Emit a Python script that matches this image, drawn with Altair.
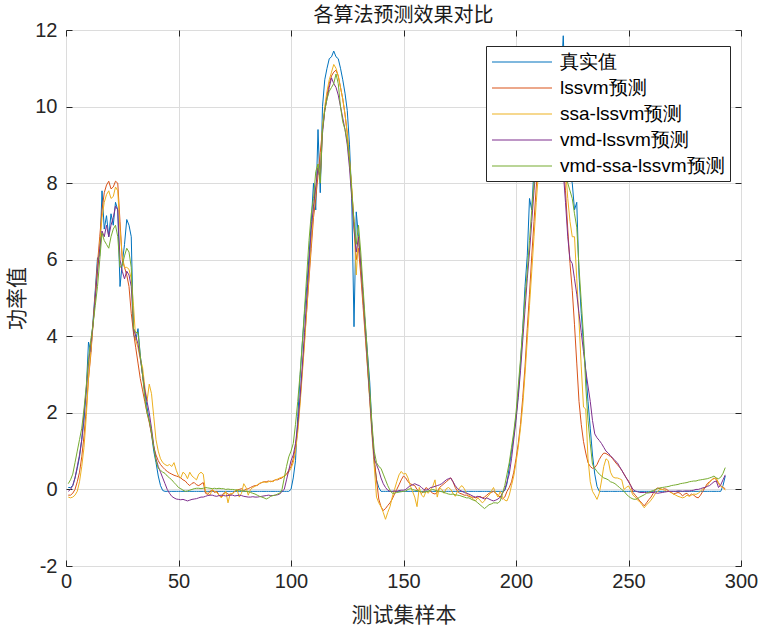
import altair as alt
import pandas as pd

samples = list(range(1, 294))

true_vals = [
    0.05, 0.05, 0.1, 0.3, 0.55, 0.85, 1.3, 1.8, 2.6, 3.85,
    3.6, 4.4, 5.2, 6.05, 6.1, 7.8, 6.8, 7.15, 6.6, 7.2,
    6.9, 7.5, 7.3, 5.3, 5.9, 6.4, 7.05, 6.9, 6.6, 4.05,
    3.9, 4.2, 3.5, 3.0, 2.55, 2.15, 1.8, 1.45, 1.0, 0.7,
    0.35, 0.1, -0.03, -0.05, -0.05, -0.05, -0.05, -0.05, -0.05, -0.05,
    -0.05, -0.05, -0.05, -0.05, -0.05, -0.05, -0.05, -0.05, -0.05, -0.05,
    -0.05, -0.05, -0.05, -0.05, -0.05, -0.05, -0.05, -0.05, -0.05, -0.05,
    -0.05, -0.05, -0.05, -0.05, -0.05, -0.05, -0.05, -0.05, -0.05, -0.05,
    -0.05, -0.05, -0.05, -0.05, -0.05, -0.05, -0.05, -0.05, -0.05, -0.05,
    -0.05, -0.05, -0.05, -0.05, -0.05, -0.05, -0.05, -0.05, -0.05, 0.0,
    0.3, 0.75, 1.9, 2.9, 3.8, 4.6, 5.3, 6.1, 7.0, 8.0,
    7.3, 9.4, 7.75, 10.0, 10.7, 11.0, 11.25, 11.3, 11.45, 11.3,
    11.25, 11.0, 10.7, 10.35, 9.9, 9.0, 7.6, 4.25, 7.25, 6.6,
    5.8, 5.0, 4.3, 3.55, 2.8, 1.6, 0.7, 0.25, 0.05, -0.05,
    -0.05, -0.05, -0.05, -0.05, -0.05, -0.05, -0.05, -0.05, -0.05, -0.05,
    -0.05, -0.05, -0.05, -0.05, -0.05, -0.05, -0.05, -0.05, -0.05, -0.05,
    -0.05, -0.05, -0.05, -0.05, -0.05, -0.05, -0.05, -0.05, -0.05, -0.05,
    -0.05, -0.05, -0.05, -0.05, -0.05, -0.05, -0.05, -0.05, -0.05, -0.05,
    -0.05, -0.05, -0.05, -0.05, -0.05, -0.05, -0.05, -0.05, -0.05, -0.05,
    -0.05, -0.05, -0.05, -0.05, -0.03, 0.15, 0.6, 1.0, 1.4, 1.9,
    2.5, 3.3, 4.2, 5.3, 6.1, 7.6, 7.3, 8.4, 9.4, 9.8,
    10.3, 10.6, 10.9, 11.1, 11.2, 11.3, 11.2, 11.0, 10.9, 10.7,
    11.85, 10.2, 9.0, 8.2, 8.0, 7.3, 7.5, 5.6, 4.6, 3.8,
    3.1, 2.3, 1.6, 0.9, 0.4, 0.08, -0.05, -0.05, -0.05, -0.05,
    -0.05, -0.05, -0.05, -0.05, -0.05, -0.05, -0.05, -0.05, -0.05, -0.05,
    -0.05, -0.05, -0.05, -0.05, -0.05, -0.05, -0.05, -0.05, -0.05, -0.05,
    -0.05, -0.05, -0.05, -0.05, -0.05, -0.05, -0.05, -0.05, -0.05, -0.05,
    -0.05, -0.05, -0.05, -0.05, -0.05, -0.05, -0.05, -0.05, -0.05, -0.05,
    -0.05, -0.05, -0.05, -0.05, -0.05, -0.05, -0.05, -0.05, -0.05, -0.05,
    -0.05, 0.1, 0.35,
]

lssvm_vals = [
    -0.15, -0.15, -0.1, 0.0, 0.2, 0.45, 0.85, 1.4, 2.1, 2.9,
    3.5, 4.3, 5.1, 5.9, 6.6, 7.3, 7.75, 7.95, 8.05, 7.85,
    7.9, 8.05, 8.0, 7.0, 6.0, 5.8, 5.6, 5.3, 4.6, 4.1,
    3.7, 3.3, 2.9, 2.6, 2.3, 2.0, 1.75, 1.45, 1.1, 0.9,
    0.75, 0.65, 0.58, 0.52, 0.47, 0.43, 0.4, 0.37, 0.35, 0.33,
    0.3, 0.25, 0.22, 0.15, 0.1, 0.16, 0.18, 0.12, 0.1, 0.14,
    0.18, -0.1, -0.13, -0.05, -0.02, -0.08, -0.05, -0.15, -0.2, -0.1,
    -0.08, -0.12, -0.15, -0.1, -0.05, -0.02, 0.0, 0.02, -0.03, 0.0,
    0.02, 0.05, 0.08, 0.1, 0.1, 0.15, 0.18, 0.2, 0.2, 0.22,
    0.2, 0.22, 0.25, 0.25, 0.28, 0.3, 0.35, 0.4, 0.5, 0.6,
    0.8, 1.1, 1.6, 2.3, 3.1, 3.9, 4.7, 5.5, 6.3, 7.1,
    7.6, 8.2, 8.8, 9.4, 9.9, 10.3, 10.6, 10.8, 10.9, 10.95,
    10.8, 10.5, 10.2, 9.8, 9.3, 8.6, 7.8, 7.0, 6.0, 6.3,
    5.6, 4.8, 4.0, 3.2, 2.4, 1.6, 0.8, 0.25, -0.25, -0.45,
    -0.55, -0.5, -0.42, -0.35, -0.25, -0.12, 0.0, 0.12, 0.25, 0.35,
    0.3, 0.2, 0.15, 0.12, 0.1, 0.0, -0.05, -0.1, -0.05, 0.05,
    0.0, -0.05, -0.1, -0.12, -0.08, 0.05, 0.1, 0.15, 0.2, 0.25,
    0.3, 0.2, 0.05, -0.05, -0.1, -0.12, -0.15, -0.15, -0.18, -0.2,
    -0.2, -0.22, -0.2, -0.18, -0.22, -0.2, -0.15, -0.1, -0.08, -0.05,
    -0.1, -0.15, -0.2, -0.25, -0.2, -0.05, 0.05, 0.2, 0.45, 0.8,
    1.2, 1.7, 2.4, 3.2, 4.2, 5.1, 6.1, 7.0, 7.9, 8.6,
    9.3, 9.8, 10.2, 10.5, 10.7, 10.8, 10.7, 10.4, 10.0, 9.4,
    8.6, 7.8, 6.8, 5.9, 5.2, 4.3, 3.3, 2.3, 1.7, 1.25,
    0.95, 0.7, 0.6, 0.55, 0.57, 0.65, 0.78, 0.88, 0.95, 0.94,
    0.9, 0.86, 0.8, 0.72, 0.65, 0.58, 0.5, 0.4, 0.3, 0.22,
    0.1, -0.08, -0.15, -0.22, -0.3, -0.36, -0.43, -0.35, -0.27, -0.2,
    -0.1, 0.0, 0.04, 0.02, 0.0, 0.02, 0.0, -0.05, -0.08, -0.12,
    -0.1, -0.08, -0.1, -0.17, -0.12, -0.1, -0.17, -0.12, -0.15, -0.2,
    -0.22, -0.15, -0.05, 0.05, 0.15, 0.2, 0.25, 0.3, 0.26, 0.15,
    0.08, 0.05, 0.02,
]

ssa_vals = [
    -0.2, -0.22, -0.2, -0.15, -0.05, 0.2, 0.6, 1.1, 1.9, 2.9,
    3.6, 4.3, 5.0, 5.7, 6.4, 7.1, 7.5, 7.7, 7.8, 7.6,
    7.65, 7.9, 7.8, 6.8, 6.1, 5.8, 5.8, 5.75, 5.5, 4.8,
    3.9, 3.7, 3.4, 3.2, 2.7, 2.3, 2.75, 2.5, 1.9, 1.3,
    1.0, 0.8, 0.7, 0.65, 0.62, 0.65, 0.6, 0.7, 0.5, 0.35,
    0.3, 0.45, 0.4, 0.28, 0.45, 0.35, 0.3, 0.25, 0.4, 0.45,
    0.4, -0.05, -0.1, -0.15, 0.0, -0.05, -0.08, -0.15, -0.22, -0.15,
    -0.05, -0.35, -0.1, -0.12, -0.05, 0.0, -0.2, -0.1, 0.15, 0.05,
    -0.15, 0.0, 0.05, 0.08, 0.12, 0.16, 0.18, 0.2, 0.18, 0.2,
    0.22, 0.2, 0.25, 0.27, 0.3, 0.32, 0.35, 0.38, 0.45, 0.55,
    0.7, 1.0, 1.5, 2.2, 3.0, 3.8, 4.7, 5.6, 6.5, 7.3,
    7.8, 8.5, 8.2, 9.5, 10.0, 10.4, 10.7, 10.9, 11.1, 11.0,
    10.8, 10.5, 10.2, 9.8, 9.3, 8.6, 7.9, 6.9, 5.6, 6.6,
    5.9, 5.0, 4.1, 3.2, 2.3, 1.4, 0.6, -0.2, -0.35, -0.45,
    -0.6, -0.78, -0.6, -0.45, -0.2, 0.0, 0.2, 0.38, 0.47, 0.4,
    0.42, 0.3, 0.1, -0.05, -0.2, -0.45, 0.05, -0.15, -0.2, -0.05,
    -0.1, 0.0, 0.08, 0.25, -0.2, 0.05, 0.0, -0.1, 0.02, 0.05,
    0.0, -0.1, -0.18, -0.05, 0.05, 0.1, 0.02, -0.1, -0.15, -0.2,
    -0.25, -0.3, -0.22, -0.28, -0.35, -0.3, -0.2, -0.15, -0.05, 0.05,
    -0.1, -0.2, -0.05, -0.2, -0.28, -0.3, -0.15, 0.1, 0.35, 0.7,
    1.1, 1.6, 2.2, 3.0, 3.9, 4.8, 5.7, 6.6, 7.5, 8.3,
    9.0, 9.6, 10.0, 10.4, 10.6, 10.75, 10.7, 10.5, 10.1, 9.6,
    9.0, 8.4, 7.6, 7.0, 6.6, 6.6, 5.5, 4.4, 3.2, 2.15,
    2.1, 0.8, 0.2, -0.05, -0.15, -0.26, -0.1, 0.22, 0.6, 0.8,
    0.75, 0.45, 0.33, 0.3, 0.3, 0.28, 0.25, 0.0, 0.05, 0.09,
    -0.02, -0.15, -0.2, -0.28, -0.32, -0.4, -0.48, -0.4, -0.35, -0.28,
    -0.2, -0.1, -0.05, 0.0, 0.0, -0.02, -0.05, -0.05, -0.08, -0.12,
    -0.15, -0.18, -0.2, -0.22, -0.2, -0.15, -0.18, -0.15, -0.12, -0.13,
    -0.1, -0.05, 0.02, 0.05, 0.1, 0.18, 0.25, 0.28, 0.3, 0.18,
    0.1, 0.05, -0.02,
]

vmd_vals = [
    -0.05, 0.0, 0.1, 0.3, 0.6, 0.9, 1.3, 2.0, 2.6, 3.3,
    3.8, 4.3, 5.0, 5.7, 6.3, 6.75, 6.6, 6.9, 6.6, 6.9,
    7.1, 7.4, 7.3, 6.0, 5.7, 5.5, 5.7, 5.6, 5.3, 4.2,
    4.0, 3.8, 3.45, 3.0, 2.6, 2.3, 2.0, 1.6, 1.15, 0.8,
    0.6, 0.45, 0.3, 0.15, 0.0, -0.1, -0.18, -0.22, -0.25, -0.26,
    -0.27, -0.26, -0.28, -0.3, -0.28, -0.26, -0.25, -0.24, -0.22, -0.2,
    -0.2, -0.18, -0.16, -0.15, -0.15, -0.17, -0.18, -0.16, -0.15, -0.16,
    -0.17, -0.16, -0.15, -0.15, -0.17, -0.16, -0.15, -0.16, -0.18, -0.19,
    -0.2, -0.2, -0.19, -0.2, -0.2, -0.19, -0.18, -0.17, -0.16, -0.15,
    -0.16, -0.16, -0.15, -0.14, -0.12, -0.05, 0.0, 0.25, 0.5, 0.75,
    0.9, 1.2, 1.7, 2.4, 3.2, 4.1, 5.0, 5.9, 6.8, 7.4,
    7.9, 8.4, 8.1, 9.3, 9.9, 10.2, 10.5, 10.75, 10.6, 10.5,
    10.3, 10.0, 9.7, 9.4, 9.0, 8.4, 7.6, 6.8, 6.2, 6.6,
    5.9, 5.1, 4.2, 3.3, 2.4, 1.5, 0.8, 0.65, 0.5, 0.3,
    0.15, 0.05, -0.02, -0.05, -0.05, -0.04, -0.05, -0.03, -0.02, -0.02,
    0.0, 0.05, 0.1, 0.12, 0.15, 0.12, 0.1, 0.05, 0.0, -0.02,
    0.0, 0.05, 0.06, 0.08, 0.1, 0.12, 0.15, 0.2, 0.25, 0.28,
    0.3, 0.2, 0.1, 0.02, -0.02, -0.05, -0.08, -0.1, -0.12, -0.15,
    -0.18, -0.2, -0.18, -0.2, -0.22, -0.25, -0.22, -0.25, -0.28, -0.3,
    -0.28, -0.25, -0.2, -0.1, 0.0, 0.2, 0.4, 0.8, 1.3, 1.8,
    2.4, 3.1, 3.9, 4.7, 5.5, 6.2, 7.0, 7.8, 8.5, 9.1,
    9.6, 10.0, 10.3, 10.5, 10.6, 10.5, 10.3, 10.0, 9.6, 9.0,
    8.3, 7.5, 6.6, 6.0, 5.9, 5.5, 5.1, 4.6, 4.1, 3.6,
    3.1, 2.7, 2.3, 1.8, 1.45, 1.35, 1.28, 1.2, 1.1, 1.0,
    0.95, 0.88, 0.82, 0.75, 0.7, 0.6, 0.5, 0.4, 0.3, 0.2,
    0.1, 0.0, -0.04, -0.06, -0.08, -0.08, -0.08, -0.08, -0.09, -0.08,
    -0.08, -0.09, -0.1, -0.09, -0.08, -0.07, -0.06, -0.05, -0.05, -0.05,
    -0.05, -0.04, -0.04, -0.05, -0.04, -0.04, -0.04, -0.03, -0.02, 0.0,
    0.0, 0.02, 0.04, 0.05, 0.08, 0.1, 0.15, 0.2, 0.22, 0.05,
    0.12, 0.25, 0.38,
]

vmd_ssa_vals = [
    0.15, 0.25, 0.4, 0.7, 1.0, 1.3, 1.6, 2.1, 2.7, 3.4,
    3.9, 4.3, 4.8, 5.3, 6.0, 6.7, 6.5, 6.4, 6.3, 6.6,
    6.8, 6.9, 6.6, 5.8, 5.85, 6.1, 6.3, 6.2, 5.8, 4.2,
    4.1, 4.1, 3.5, 3.0, 2.4, 2.0, 1.8, 1.5, 1.1, 0.75,
    0.55, 0.5, 0.45, 0.42, 0.35, 0.3, 0.25, 0.18, 0.12, 0.05,
    0.02, -0.02, -0.05, -0.04, -0.02, 0.0, 0.02, 0.03, 0.03, 0.02,
    0.03, 0.05, 0.04, 0.03, 0.02, 0.03, 0.02, 0.03, 0.02, 0.02,
    0.0, 0.01, 0.0, 0.0, -0.01, -0.02, -0.02, -0.03, -0.04, -0.05,
    -0.06, -0.08, -0.1, -0.12, -0.15, -0.18, -0.2, -0.22, -0.25, -0.22,
    -0.18, -0.16, -0.15, -0.12, -0.1, 0.0, 0.3, 0.6, 0.85, 1.0,
    1.2, 1.7, 2.3, 3.0, 3.8, 4.7, 5.6, 6.5, 7.2, 7.6,
    8.3, 8.5, 8.0, 9.4, 9.9, 10.2, 10.4, 10.5, 10.6, 10.85,
    10.6, 10.0, 9.6, 9.4, 9.1, 8.6, 7.8, 7.0, 6.4, 6.9,
    6.2, 5.3, 4.4, 3.5, 2.6, 1.7, 1.0, 0.7, 0.6, 0.55,
    0.4, 0.25, 0.1, -0.02, -0.1, -0.1, -0.08, -0.07, -0.06, -0.05,
    -0.04, 0.0, 0.02, 0.0, -0.02, -0.03, -0.05, -0.06, -0.08, -0.06,
    -0.04, -0.02, 0.0, -0.02, -0.04, -0.05, -0.06, -0.08, -0.1, -0.12,
    -0.13, -0.12, -0.14, -0.15, -0.16, -0.18, -0.2, -0.22, -0.22, -0.25,
    -0.28, -0.3, -0.35, -0.4, -0.45, -0.5, -0.45, -0.4, -0.38, -0.35,
    -0.35, -0.36, -0.3, -0.1, 0.1, 0.4, 0.7, 1.1, 1.5, 2.0,
    2.7, 3.4, 4.2, 5.0, 5.7, 6.5, 7.3, 8.0, 8.7, 9.3,
    9.8, 10.2, 10.5, 10.7, 10.8, 10.7, 10.5, 10.2, 9.8, 9.4,
    8.9, 8.4, 8.0, 7.8, 7.6, 7.2, 6.85, 5.8, 4.9, 4.0,
    2.7, 1.8, 1.2, 0.65, 0.55, 0.47, 0.4, 0.35, 0.3, 0.28,
    0.25, 0.2, 0.18, 0.15, 0.1, 0.05, 0.0, -0.05, -0.12, -0.18,
    -0.22, -0.25, -0.26, -0.24, -0.2, -0.17, -0.14, -0.1, -0.08, -0.05,
    -0.03, 0.0, 0.02, 0.04, 0.05, 0.06, 0.07, 0.08, 0.1, 0.11,
    0.12, 0.13, 0.15, 0.16, 0.17, 0.18, 0.2, 0.21, 0.22, 0.22,
    0.24, 0.25, 0.26, 0.27, 0.28, 0.3, 0.32, 0.35, 0.3, 0.28,
    0.32, 0.42, 0.57,
]

series_names = ["真实值", "lssvm预测", "ssa-lssvm预测", "vmd-lssvm预测", "vmd-ssa-lssvm预测"]
series_colors = ["#0072BD", "#D95319", "#EDB120", "#7E2F8E", "#77AC30"]
series_values = [true_vals, lssvm_vals, ssa_vals, vmd_vals, vmd_ssa_vals]

x_ticks = [0, 50, 100, 150, 200, 250, 300]
y_ticks = [-2, 0, 2, 4, 6, 8, 10, 12]

for v in series_values:
    assert len(v) == len(samples), len(v)

rows = []
for name, vals in zip(series_names, series_values):
    for s, v in zip(samples, vals):
        rows.append({"sample": s, "value": v, "series": name})
df = pd.DataFrame(rows)

W, H = 675, 536
TICK = 6
INK = "#262626"
NUM_FONT = "Liberation Sans"
CJK_FONT = "Noto Sans CJK SC"

xscale = alt.Scale(domain=[0, 300], nice=False, zero=False)
yscale = alt.Scale(domain=[-2, 12], nice=False, zero=False)

lines = alt.Chart(df).mark_line(strokeWidth=1).encode(
    x=alt.X("sample:Q", scale=xscale,
            axis=alt.Axis(orient="bottom", values=x_ticks, grid=True, gridColor="#dcdcdc",
                          domain=False, ticks=False, labels=False, title=None)),
    y=alt.Y("value:Q", scale=yscale,
            axis=alt.Axis(orient="left", values=y_ticks, grid=True, gridColor="#dcdcdc",
                          domain=False, ticks=False, labels=False, title=None)),
    color=alt.Color("series:N", sort=series_names,
                    scale=alt.Scale(domain=series_names, range=series_colors),
                    legend=alt.Legend(title=None, orient="none", legendX=420, legendY=16,
                                      fillColor="white", strokeColor=INK,
                                      padding=5,
                                      symbolType="M-3,0H3", symbolSize=400,
                                      symbolStrokeWidth=1.2, symbolOpacity=1,
                                      symbolOffset=20,
                                      labelOffset=27, labelFont=NUM_FONT,
                                      labelFontSize=19, labelColor="#000000",
                                      rowPadding=5, labelLimit=400)),
)

labelled = alt.Chart(df).mark_point(opacity=0, size=1).encode(
    x=alt.X("sample:Q", scale=xscale,
            axis=alt.Axis(orient="bottom", values=x_ticks, grid=False, domain=False,
                          ticks=True, tickSize=TICK, tickColor=INK, offset=-TICK,
                          labelPadding=5, labelFont=NUM_FONT, labelFontSize=20,
                          labelColor=INK, labelExpr="'' + datum.value", labelFlush=False,
                          title="测试集样本", titleFont=CJK_FONT, titleFontSize=21,
                          titleFontWeight="normal", titleColor=INK,
                          titleBaseline="middle", titleY=55, titleX=W / 2)),
    y=alt.Y("value:Q", scale=yscale,
            axis=alt.Axis(orient="left", values=y_ticks, grid=False, domain=False,
                          ticks=True, tickSize=TICK, tickColor=INK, offset=-TICK,
                          labelPadding=9, labelFont=NUM_FONT, labelFontSize=20,
                          labelColor=INK, labelExpr="'' + datum.value", labelFlush=False,
                          title="功率值", titleFont=CJK_FONT, titleFontSize=21,
                          titleFontWeight="normal", titleColor=INK,
                          titleBaseline="middle", titleAngle=270,
                          titleX=-55, titleY=H / 2)),
)

mirror = alt.Chart(df).mark_point(opacity=0, size=1).encode(
    x=alt.X("sample:Q", scale=xscale,
            axis=alt.Axis(orient="top", values=x_ticks, grid=False, domain=False,
                          ticks=True, tickSize=TICK, tickColor=INK, offset=-TICK,
                          labels=False, title=None)),
    y=alt.Y("value:Q", scale=yscale,
            axis=alt.Axis(orient="right", values=y_ticks, grid=False, domain=False,
                          ticks=True, tickSize=TICK, tickColor=INK, offset=-TICK,
                          labels=False, title=None)),
)

chart = alt.layer(lines, labelled, mirror).resolve_axis(
    x="independent", y="independent"
).properties(
    width=W, height=H,
    title=alt.TitleParams("各算法预测效果对比", font=CJK_FONT, fontSize=20,
                          fontWeight="normal", color="#1a1a1a", offset=-6, anchor="middle"),
    autosize=alt.AutoSizeParams(type="none"),
    padding={"left": 66, "top": 30, "right": 22, "bottom": 64},
).configure_view(
    stroke=INK, strokeWidth=1
).configure(background="white")

chart.save("out.html", embed_options={"renderer": "svg", "actions": False})
